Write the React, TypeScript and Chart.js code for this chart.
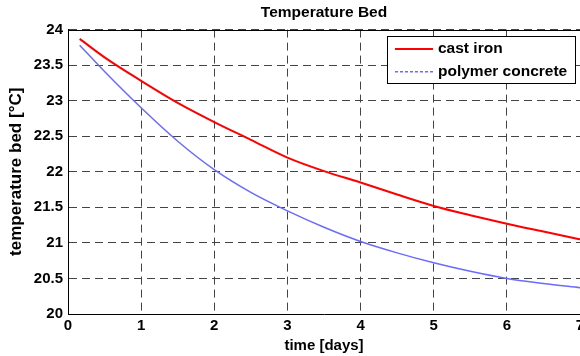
import React, { useEffect, useRef } from "react";
import { Chart, registerables } from "chart.js";

Chart.register(...registerables);

const titleText = "Temperature Bed";
const xTitle = "time [days]";
const yTitle = "temperature bed [°C]";
const seriesNames = ["cast iron", "polymer concrete"];

const times = [0.16, 0.5, 1, 1.5, 2, 2.5, 3, 3.5, 4, 4.5, 5, 5.5, 6, 6.5, 7];
const castIron = [23.87, 23.61, 23.28, 22.97, 22.7, 22.45, 22.2, 22.01, 21.85, 21.68, 21.52, 21.39, 21.27, 21.16, 21.05];
const polymerConcrete = [23.78, 23.41, 22.9, 22.43, 22.03, 21.71, 21.45, 21.22, 21.02, 20.86, 20.72, 20.6, 20.5, 20.43, 20.37];

const xTickValues = [0, 1, 2, 3, 4, 5, 6, 7];
const yTickValues = [20, 20.5, 21, 21.5, 22, 22.5, 23, 23.5, 24];

const FONT = "'Liberation Sans', Arial, Helvetica, sans-serif";
const legendDashes = [[], [3, 2]];

const boxLegend = {
  id: "boxLegend",
  afterDatasetsDraw(chart: any) {
    const { ctx, chartArea } = chart;
    const w = 188;
    const h = 47;
    const x = Math.round(chartArea.right - 193);
    const y = Math.round(chartArea.top + 6);
    ctx.save();
    ctx.fillStyle = "#ffffff";
    ctx.fillRect(x, y, w, h);
    ctx.strokeStyle = "#000000";
    ctx.lineWidth = 1;
    ctx.setLineDash([]);
    ctx.strokeRect(x + 0.5, y + 0.5, w, h);
    chart.data.datasets.forEach((ds: any, i: number) => {
      const cy = y + 13 + i * 22.7;
      ctx.strokeStyle = ds.borderColor;
      ctx.lineWidth = ds.borderWidth;
      ctx.setLineDash(legendDashes[i]);
      ctx.beginPath();
      ctx.moveTo(x + 8, cy);
      ctx.lineTo(x + 46, cy);
      ctx.stroke();
      ctx.setLineDash([]);
      ctx.fillStyle = "#000000";
      ctx.font = `bold 15.5px ${FONT}`;
      ctx.textBaseline = "middle";
      ctx.textAlign = "left";
      ctx.fillText(ds.label, x + 51, cy);
    });
    ctx.restore();
  },
};

const topFrame = {
  id: "topFrame",
  afterDraw(chart: any) {
    const { ctx, chartArea } = chart;
    ctx.save();
    ctx.strokeStyle = "#000000";
    ctx.lineWidth = 1;
    ctx.beginPath();
    const yy = Math.round(chartArea.top) + 0.5;
    ctx.moveTo(chartArea.left, yy);
    ctx.lineTo(chartArea.right, yy);
    ctx.stroke();
    ctx.restore();
  },
};

export default function App() {
  const ref = useRef<HTMLCanvasElement | null>(null);

  useEffect(() => {
    document.body.style.margin = "0";
    const canvas = ref.current;
    if (!canvas) return;
    const chart = new Chart(canvas, {
      type: "line",
      data: {
        datasets: [
          {
            label: seriesNames[0],
            data: times.map((t, i) => ({ x: t, y: castIron[i] })),
            borderColor: "#ff0000",
            borderWidth: 2,
            pointRadius: 0,
            cubicInterpolationMode: "monotone",
            fill: false,
          },
          {
            label: seriesNames[1],
            data: times.map((t, i) => ({ x: t, y: polymerConcrete[i] })),
            borderColor: "#6b6bff",
            borderWidth: 1.5,
            pointRadius: 0,
            cubicInterpolationMode: "monotone",
            fill: false,
          },
        ],
      },
      options: {
        responsive: false,
        animation: false,
        devicePixelRatio: 1,
        layout: { padding: { left: 0, right: 20, top: 0, bottom: 0 } },
        plugins: {
          legend: { display: false },
          tooltip: { enabled: false },
          title: {
            display: true,
            text: titleText,
            fullSize: false,
            color: "#000",
            font: { family: FONT, size: 15.5, weight: "bold" },
            padding: { top: 3, bottom: 8 },
          },
        },
        scales: {
          x: {
            type: "linear",
            min: 0,
            max: 7,
            afterBuildTicks: (scale: any) => {
              scale.ticks = xTickValues.map((v) => ({ value: v }));
            },
            afterFit: (scale: any) => {
              scale.height = 42;
            },
            ticks: {
              color: "#000",
              font: { family: FONT, size: 15, weight: "bold" },
              padding: 3,
              maxRotation: 0,
              autoSkip: false,
              callback: (v: any) => String(v),
            },
            grid: {
              color: "#444",
              lineWidth: 1,
              drawTicks: false,
            },
            border: { display: true, color: "#000", width: 1, dash: [8, 5] },
            title: {
              display: true,
              text: xTitle,
              color: "#000",
              font: { family: FONT, size: 15, weight: "bold" },
              padding: { top: 0, bottom: 1 },
            },
          },
          y: {
            type: "linear",
            min: 20,
            max: 24,
            afterBuildTicks: (scale: any) => {
              scale.ticks = yTickValues.map((v) => ({ value: v }));
            },
            afterFit: (scale: any) => {
              scale.width = 68;
            },
            ticks: {
              color: "#000",
              font: { family: FONT, size: 15, weight: "bold" },
              padding: 5,
              autoSkip: false,
              callback: (v: any) => String(v),
            },
            grid: {
              color: "#444",
              lineWidth: 1,
              drawTicks: false,
            },
            border: { display: true, color: "#000", width: 1, dash: [8, 5] },
            title: {
              display: true,
              text: yTitle,
              color: "#000",
              font: { family: FONT, size: 17, weight: "bold" },
              padding: { top: 6, bottom: 0 },
            },
          },
        },
      },
      plugins: [boxLegend, topFrame],
    });
    return () => chart.destroy();
  }, []);

  return (
    <div style={{ position: "fixed", left: 0, top: 0, width: 580, height: 356, overflow: "hidden", background: "#fff" }}>
      <canvas ref={ref} width={600} height={356} style={{ display: "block", width: 600, height: 356 }} />
    </div>
  );
}
